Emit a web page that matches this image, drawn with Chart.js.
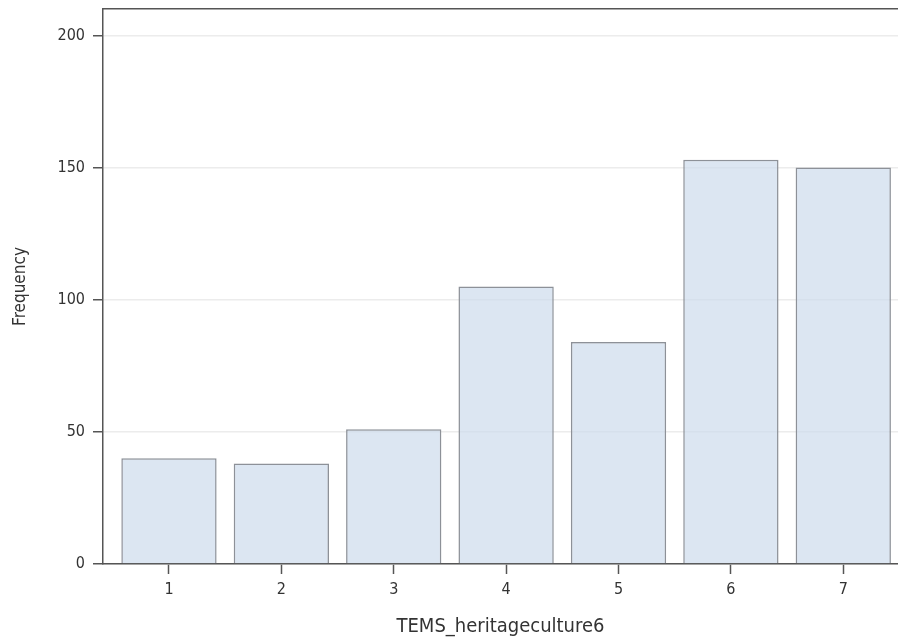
<!DOCTYPE html>
<html>
<head>
<meta charset="utf-8">
<script src="https://cdn.jsdelivr.net/npm/chart.js@4/dist/chart.umd.min.js"></script>
<style>
  html, body { margin: 0; padding: 0; background: #ffffff; }
  #wrap { width: 898px; height: 640px; position: relative; }
</style>
</head>
<body>
<div id="wrap"><canvas id="c"></canvas></div>
<script>
// Response categories of TEMS_heritageculture6 and their counts
const categories = [1, 2, 3, 4, 5, 6, 7];
const frequencies = [40, 38, 51, 105, 84, 153, 150];
const yTicks = [0, 50, 100, 150, 200];

const axisColor = '#555555';
const textColor = '#333333';
const fontFamily = "'DejaVu Sans Condensed', 'DejaVu Sans', sans-serif";

const points = categories.map((c, i) => ({ x: c, y: frequencies[i] }));

new Chart(document.getElementById('c'), {
  type: 'bar',
  data: {
    datasets: [{
      data: points,
      backgroundColor: 'rgba(205, 219, 236, 0.7)',
      borderColor: '#8d9198',
      borderWidth: 1.5,
      categoryPercentage: 1,
      barPercentage: 0.848
    }]
  },
  options: {
    responsive: true,
    maintainAspectRatio: false,
    animation: false,
    layout: { padding: 0 },
    plugins: { legend: { display: false }, tooltip: { enabled: false } },
    scales: {
      x: {
        type: 'linear',
        position: 'bottom',
        offset: false,
        min: 0.413,
        max: 7.487,
        afterBuildTicks: s => { s.ticks = categories.map(v => ({ value: v })); },
        ticks: {
          color: textColor,
          font: { family: fontFamily, size: 16 },
          padding: 6,
          maxRotation: 0
        },
        grid: {
          offset: false,
          drawOnChartArea: false,
          drawTicks: true,
          tickLength: 10,
          tickColor: axisColor,
          tickWidth: 1.5
        },
        border: { display: true, color: axisColor, width: 1.5 },
        title: {
          display: true,
          text: 'TEMS_heritageculture6',
          color: textColor,
          font: { family: fontFamily, size: 20 },
          padding: { top: 4, bottom: 1 }
        },
        afterFit: s => { s.height = 76; s.paddingLeft = 0; s.paddingRight = 0; }
      },
      xTop: {
        type: 'linear',
        position: 'top',
        min: 0,
        max: 1,
        ticks: { display: false },
        grid: { display: false, drawTicks: false },
        border: { display: true, color: axisColor, width: 1.5 },
        afterFit: s => { s.height = 9; }
      },
      y: {
        type: 'linear',
        min: 0,
        max: 210,
        afterBuildTicks: s => { s.ticks = yTicks.map(v => ({ value: v })); },
        ticks: {
          color: textColor,
          font: { family: fontFamily, size: 16 },
          padding: 8
        },
        grid: {
          color: '#ececec',
          lineWidth: 1.5,
          drawTicks: true,
          tickLength: 10,
          tickColor: axisColor,
          tickWidth: 1.5
        },
        border: { display: true, color: axisColor, width: 1.5 },
        title: {
          display: true,
          text: 'Frequency',
          color: textColor,
          font: { family: fontFamily, size: 17 },
          padding: { top: 10, bottom: 4 }
        },
        afterFit: s => { s.width = 103; s.paddingTop = 0; s.paddingBottom = 0; }
      }
    }
  }
});
</script>
</body>
</html>
